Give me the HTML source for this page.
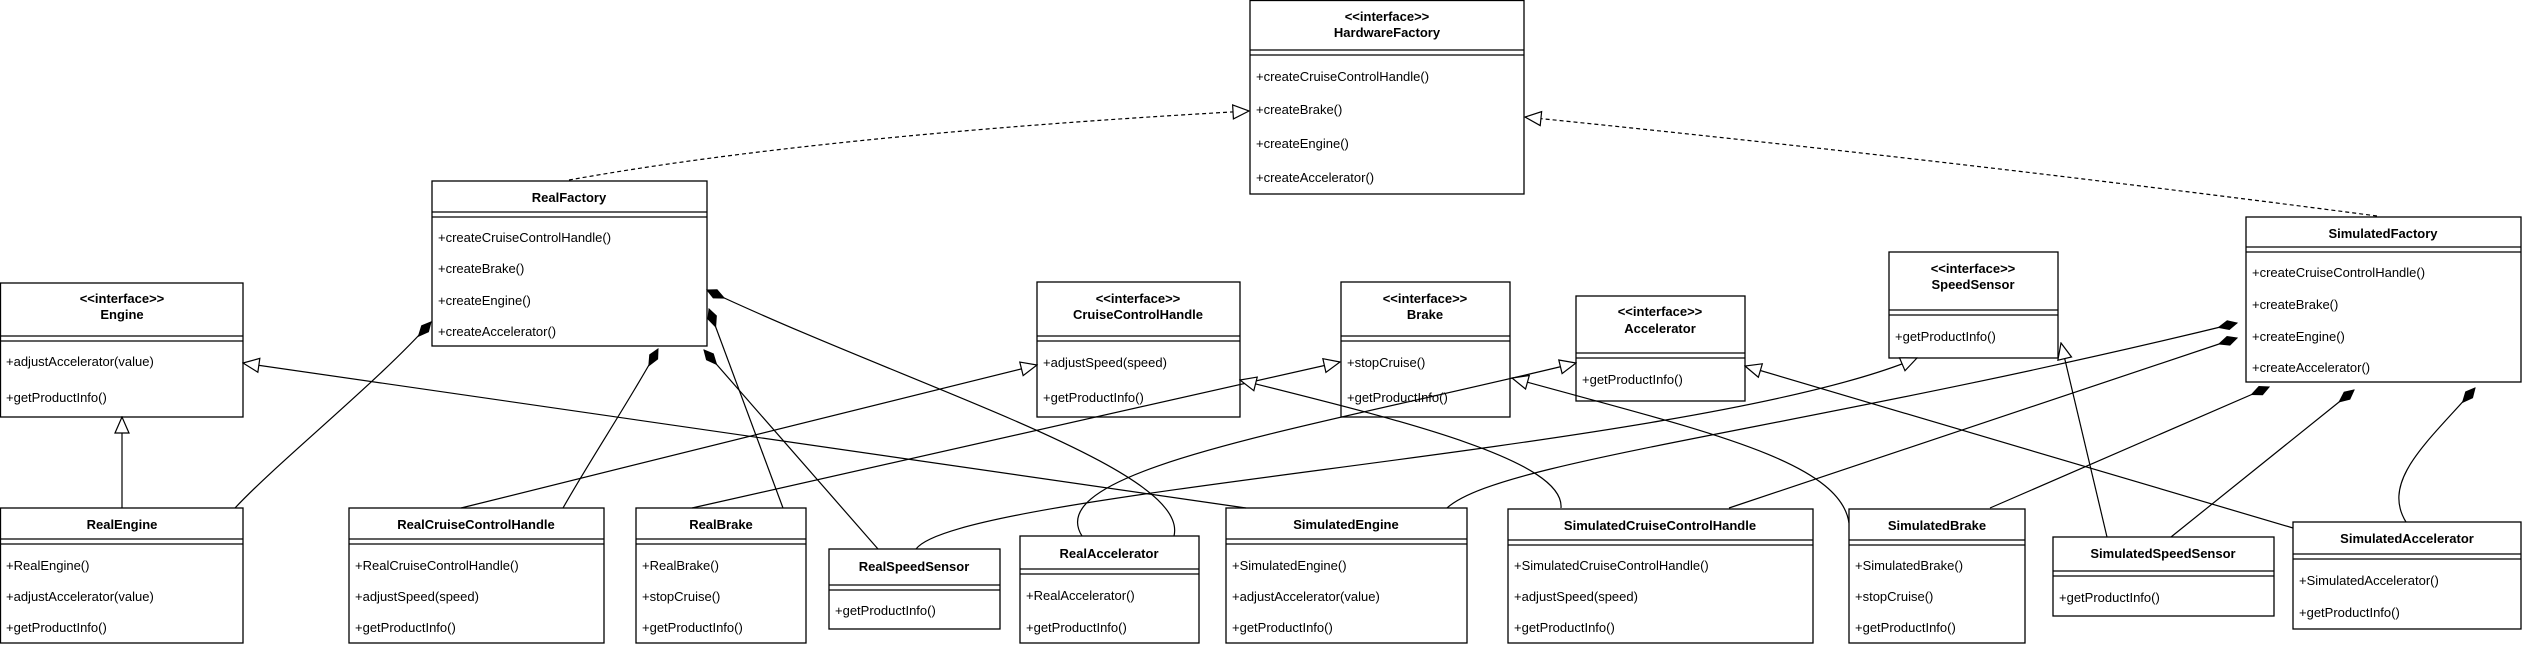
<!DOCTYPE html>
<html><head><meta charset="utf-8"><style>
html,body{margin:0;padding:0;background:#fff;}
svg{display:block;}
text{font-family:"Liberation Sans",Arial,sans-serif;font-size:13px;fill:#000;}
.t{font-weight:bold;text-anchor:middle;}
.b{fill:#fff;stroke:#000;stroke-width:1.3;}
.l{stroke:#000;stroke-width:1.3;}
.e{fill:none;stroke:#000;stroke-width:1.2;}
.d{fill:none;stroke:#000;stroke-width:1.2;stroke-dasharray:4,3;}
</style></head><body>
<svg width="2522" height="648" viewBox="0 0 2522 648" xmlns="http://www.w3.org/2000/svg">
<defs>
<marker id="tri" markerWidth="18" markerHeight="16" refX="17" refY="8" orient="auto" markerUnits="userSpaceOnUse">
<path d="M1,1 L17,8 L1,15 Z" fill="#fff" stroke="#000" stroke-width="1.2"/></marker>
<marker id="dia" markerWidth="22" markerHeight="12" refX="1" refY="6" orient="auto" markerUnits="userSpaceOnUse">
<path d="M1,6 L10,1.5 L20,6 L10,10.5 Z" fill="#000" stroke="#000"/></marker>
</defs>

<!-- HardwareFactory -->
<rect class="b" x="1250" y="0.5" width="274" height="193.5"/>
<line class="l" x1="1250" y1="50" x2="1524" y2="50"/><line class="l" x1="1250" y1="55" x2="1524" y2="55"/>
<text class="t" x="1387" y="21">&lt;&lt;interface&gt;&gt;</text><text class="t" x="1387" y="37">HardwareFactory</text>
<text x="1256" y="81">+createCruiseControlHandle()</text><text x="1256" y="114">+createBrake()</text><text x="1256" y="148">+createEngine()</text><text x="1256" y="182">+createAccelerator()</text>

<!-- RealFactory -->
<rect class="b" x="432" y="181" width="275" height="165"/>
<line class="l" x1="432" y1="212" x2="707" y2="212"/><line class="l" x1="432" y1="217" x2="707" y2="217"/>
<text class="t" x="569" y="202">RealFactory</text>
<text x="438" y="242">+createCruiseControlHandle()</text><text x="438" y="273">+createBrake()</text><text x="438" y="305">+createEngine()</text><text x="438" y="336">+createAccelerator()</text>

<!-- Engine -->
<rect class="b" x="0.5" y="283" width="242.5" height="134"/>
<line class="l" x1="0" y1="336" x2="243" y2="336"/><line class="l" x1="0" y1="341" x2="243" y2="341"/>
<text class="t" x="122" y="303">&lt;&lt;interface&gt;&gt;</text><text class="t" x="122" y="319">Engine</text>
<text x="6" y="366">+adjustAccelerator(value)</text><text x="6" y="402">+getProductInfo()</text>

<!-- RealEngine -->
<rect class="b" x="0.5" y="508" width="242.5" height="135"/>
<line class="l" x1="0" y1="539" x2="243" y2="539"/><line class="l" x1="0" y1="544" x2="243" y2="544"/>
<text class="t" x="122" y="529">RealEngine</text>
<text x="6" y="570">+RealEngine()</text><text x="6" y="601">+adjustAccelerator(value)</text><text x="6" y="632">+getProductInfo()</text>

<!-- RealCruiseControlHandle -->
<rect class="b" x="349" y="508" width="255" height="135"/>
<line class="l" x1="349" y1="539" x2="604" y2="539"/><line class="l" x1="349" y1="544" x2="604" y2="544"/>
<text class="t" x="476" y="529">RealCruiseControlHandle</text>
<text x="355" y="570">+RealCruiseControlHandle()</text><text x="355" y="601">+adjustSpeed(speed)</text><text x="355" y="632">+getProductInfo()</text>

<!-- RealBrake -->
<rect class="b" x="636" y="508" width="170" height="135"/>
<line class="l" x1="636" y1="539" x2="806" y2="539"/><line class="l" x1="636" y1="544" x2="806" y2="544"/>
<text class="t" x="721" y="529">RealBrake</text>
<text x="642" y="570">+RealBrake()</text><text x="642" y="601">+stopCruise()</text><text x="642" y="632">+getProductInfo()</text>

<!-- RealSpeedSensor -->
<rect class="b" x="829" y="549" width="171" height="80"/>
<line class="l" x1="829" y1="585" x2="1000" y2="585"/><line class="l" x1="829" y1="590" x2="1000" y2="590"/>
<text class="t" x="914" y="571">RealSpeedSensor</text>
<text x="835" y="615">+getProductInfo()</text>

<!-- RealAccelerator -->
<rect class="b" x="1020" y="536" width="179" height="107"/>
<line class="l" x1="1020" y1="569" x2="1199" y2="569"/><line class="l" x1="1020" y1="574" x2="1199" y2="574"/>
<text class="t" x="1109" y="558">RealAccelerator</text>
<text x="1026" y="600">+RealAccelerator()</text><text x="1026" y="632">+getProductInfo()</text>

<!-- SimulatedEngine -->
<rect class="b" x="1226" y="508" width="241" height="135"/>
<line class="l" x1="1226" y1="539" x2="1467" y2="539"/><line class="l" x1="1226" y1="544" x2="1467" y2="544"/>
<text class="t" x="1346" y="529">SimulatedEngine</text>
<text x="1232" y="570">+SimulatedEngine()</text><text x="1232" y="601">+adjustAccelerator(value)</text><text x="1232" y="632">+getProductInfo()</text>

<!-- SimulatedCruiseControlHandle -->
<rect class="b" x="1508" y="509" width="305" height="134"/>
<line class="l" x1="1508" y1="540" x2="1813" y2="540"/><line class="l" x1="1508" y1="545" x2="1813" y2="545"/>
<text class="t" x="1660" y="530">SimulatedCruiseControlHandle</text>
<text x="1514" y="570">+SimulatedCruiseControlHandle()</text><text x="1514" y="601">+adjustSpeed(speed)</text><text x="1514" y="632">+getProductInfo()</text>

<!-- SimulatedBrake -->
<rect class="b" x="1849" y="509" width="176" height="134"/>
<line class="l" x1="1849" y1="540" x2="2025" y2="540"/><line class="l" x1="1849" y1="545" x2="2025" y2="545"/>
<text class="t" x="1937" y="530">SimulatedBrake</text>
<text x="1855" y="570">+SimulatedBrake()</text><text x="1855" y="601">+stopCruise()</text><text x="1855" y="632">+getProductInfo()</text>

<!-- SimulatedSpeedSensor -->
<rect class="b" x="2053" y="537" width="221" height="79"/>
<line class="l" x1="2053" y1="571" x2="2274" y2="571"/><line class="l" x1="2053" y1="576" x2="2274" y2="576"/>
<text class="t" x="2163" y="558">SimulatedSpeedSensor</text>
<text x="2059" y="602">+getProductInfo()</text>

<!-- SimulatedAccelerator -->
<rect class="b" x="2293" y="522" width="228" height="107"/>
<line class="l" x1="2293" y1="554" x2="2521" y2="554"/><line class="l" x1="2293" y1="559" x2="2521" y2="559"/>
<text class="t" x="2407" y="543">SimulatedAccelerator</text>
<text x="2299" y="585">+SimulatedAccelerator()</text><text x="2299" y="617">+getProductInfo()</text>

<!-- SimulatedFactory -->
<rect class="b" x="2246" y="217" width="275" height="165"/>
<line class="l" x1="2246" y1="247" x2="2521" y2="247"/><line class="l" x1="2246" y1="252" x2="2521" y2="252"/>
<text class="t" x="2383" y="238">SimulatedFactory</text>
<text x="2252" y="277">+createCruiseControlHandle()</text><text x="2252" y="309">+createBrake()</text><text x="2252" y="341">+createEngine()</text><text x="2252" y="372">+createAccelerator()</text>

<!-- CruiseControlHandle -->
<rect class="b" x="1037" y="282" width="203" height="135"/>
<line class="l" x1="1037" y1="336" x2="1240" y2="336"/><line class="l" x1="1037" y1="341" x2="1240" y2="341"/>
<text class="t" x="1138" y="303">&lt;&lt;interface&gt;&gt;</text><text class="t" x="1138" y="319">CruiseControlHandle</text>
<text x="1043" y="367">+adjustSpeed(speed)</text><text x="1043" y="402">+getProductInfo()</text>

<!-- Brake -->
<rect class="b" x="1341" y="282" width="169" height="135"/>
<line class="l" x1="1341" y1="336" x2="1510" y2="336"/><line class="l" x1="1341" y1="341" x2="1510" y2="341"/>
<text class="t" x="1425" y="303">&lt;&lt;interface&gt;&gt;</text><text class="t" x="1425" y="319">Brake</text>
<text x="1347" y="367">+stopCruise()</text><text x="1347" y="402">+getProductInfo()</text>

<!-- Accelerator -->
<rect class="b" x="1576" y="296" width="169" height="105"/>
<line class="l" x1="1576" y1="353" x2="1745" y2="353"/><line class="l" x1="1576" y1="358" x2="1745" y2="358"/>
<text class="t" x="1660" y="316">&lt;&lt;interface&gt;&gt;</text><text class="t" x="1660" y="333">Accelerator</text>
<text x="1582" y="384">+getProductInfo()</text>

<!-- SpeedSensor -->
<rect class="b" x="1889" y="252" width="169" height="106"/>
<line class="l" x1="1889" y1="310" x2="2058" y2="310"/><line class="l" x1="1889" y1="315" x2="2058" y2="315"/>
<text class="t" x="1973" y="273">&lt;&lt;interface&gt;&gt;</text><text class="t" x="1973" y="289">SpeedSensor</text>
<text x="1895" y="341">+getProductInfo()</text>

<!-- edges (drawn on top) -->
<path class="d" d="M569,180 Q820,135 1249,111" marker-end="url(#tri)"/>
<path class="d" d="M2377,216 Q1950,160 1525,117" marker-end="url(#tri)"/>
<path class="e" d="M122,508 L122,417" marker-end="url(#tri)"/>
<path class="e" d="M1246,508 L243,363" marker-end="url(#tri)"/>
<path class="e" d="M461,508 L1037,365" marker-end="url(#tri)"/>
<path class="e" d="M692,508 L1340,362" marker-end="url(#tri)"/>
<path class="e" d="M916,549 C960,490 1700,450 1917,358" marker-end="url(#tri)"/>
<path class="e" d="M1082,536 C1040,470 1300,430 1576,363" marker-end="url(#tri)"/>
<path class="e" d="M1561,508 C1565,460 1400,420 1240,380" marker-end="url(#tri)"/>
<path class="e" d="M1849,523 C1840,460 1700,430 1512,378" marker-end="url(#tri)"/>
<path class="e" d="M2293,528 L1745,366" marker-end="url(#tri)"/>
<path class="e" d="M2107,537 L2061,343" marker-end="url(#tri)"/>

<path class="e" d="M431,322 C380,380 280,460 235,508" marker-start="url(#dia)"/>
<path class="e" d="M658,349 C630,400 590,460 563,508" marker-start="url(#dia)"/>
<path class="e" d="M709,309 L783,508" marker-start="url(#dia)"/>
<path class="e" d="M704,350 L878,549" marker-start="url(#dia)"/>
<path class="e" d="M707,290 C920,390 1190,470 1174,536" marker-start="url(#dia)"/>
<path class="e" d="M2237,323 C1800,430 1500,460 1447,508" marker-start="url(#dia)"/>
<path class="e" d="M2237,338 L1729,508" marker-start="url(#dia)"/>
<path class="e" d="M2269,387 L1990,508" marker-start="url(#dia)"/>
<path class="e" d="M2354,390 L2171,537" marker-start="url(#dia)"/>
<path class="e" d="M2475,388 C2430,440 2380,480 2406,522" marker-start="url(#dia)"/>
</svg>
</body></html>
